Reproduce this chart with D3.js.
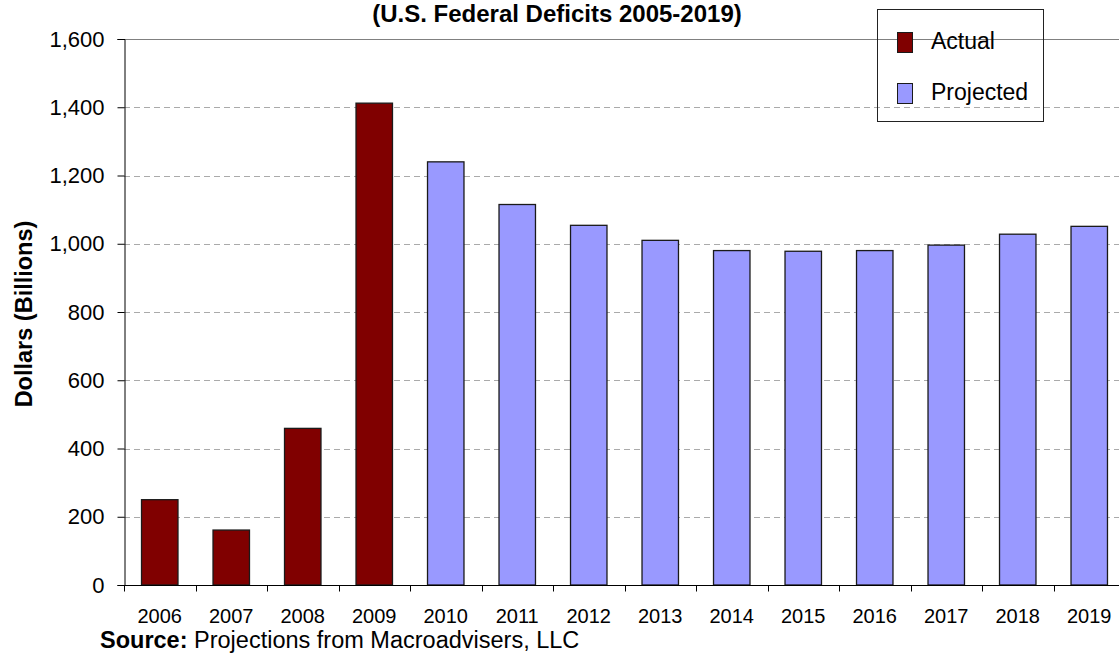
<!DOCTYPE html>
<html>
<head>
<meta charset="utf-8">
<script src="https://cdn.jsdelivr.net/npm/d3@7"></script>
<style>
	body { margin: 0; background: #fff; }
	svg { font-family: Arial, "Liberation Sans", sans-serif; }
</style>
</head>
<body>
<div id="chart"></div>
<script>
// data
const years = ['2006','2007','2008','2009','2010','2011','2012','2013','2014','2015','2016','2017','2018','2019'];
const deficits = [250, 161, 459, 1412, 1240, 1115, 1054, 1010, 980, 978, 980, 996, 1028, 1051];
const kinds = ['Actual','Actual','Actual','Actual','Projected','Projected','Projected','Projected','Projected','Projected','Projected','Projected','Projected','Projected'];
const yTicks = [0, 200, 400, 600, 800, 1000, 1200, 1400, 1600];
const legendLabels = ['Actual', 'Projected'];

const colours = { Actual: '#800000', Projected: '#9999FF' };
const width = 1119, height = 654;
const plot = { left: 124, right: 1125, top: 39, bottom: 585 };
const FONT = 'Arial, "Liberation Sans", sans-serif';

const svg = d3.select('#chart').append('svg')
	.attr('width', width)
	.attr('height', height);

const x = d3.scaleBand()
	.domain(years)
	.range([plot.left, plot.right])
	.paddingInner(0.49)
	.paddingOuter(0.245);

const y = d3.scaleLinear()
	.domain([0, 1600])
	.range([plot.bottom, plot.top]);

// gridlines (dashed), top one solid
svg.append('g')
	.selectAll('line')
	.data(yTicks.filter(d => d > 0))
	.enter().append('line')
		.attr('x1', plot.left)
		.attr('x2', width)
		.attr('y1', d => Math.round(y(d)) + 0.5)
		.attr('y2', d => Math.round(y(d)) + 0.5)
		.attr('stroke', d => d === 1600 ? '#808080' : '#aaaaaa')
		.attr('stroke-width', 1)
		.attr('stroke-dasharray', d => d === 1600 ? null : '6,4');

// bars
svg.append('g')
	.selectAll('rect')
	.data(years)
	.enter().append('rect')
		.attr('x', d => x(d))
		.attr('y', (d, i) => y(deficits[i]))
		.attr('width', x.bandwidth())
		.attr('height', (d, i) => y(0) - y(deficits[i]))
		.attr('fill', (d, i) => colours[kinds[i]])
		.attr('stroke', '#1a1a1a')
		.attr('stroke-width', 1.3);

// y axis
const yAxis = svg.append('g')
	.attr('transform', `translate(${plot.left + 0.5},0)`)
	.call(d3.axisLeft(y).tickValues(yTicks).tickSize(7).tickPadding(13).tickFormat(d3.format(',')));
yAxis.select('.domain').attr('stroke', '#000');
yAxis.selectAll('.tick line').attr('stroke', '#000');
yAxis.selectAll('.tick text')
	.attr('font-size', 22)
	.attr('font-family', FONT)
	.attr('fill', '#000');

// x axis: baseline, ticks at band edges, labels
const step = x.step();
const xBase = svg.append('g')
	.attr('transform', `translate(0,${plot.bottom + 0.5})`);
xBase.append('line')
	.attr('x1', plot.left)
	.attr('x2', width)
	.attr('stroke', '#000');
xBase.selectAll('.xtick')
	.data(years)
	.enter().append('line')
		.attr('class', 'xtick')
		.attr('x1', (d, i) => Math.round(plot.left + i * step) + 0.5)
		.attr('x2', (d, i) => Math.round(plot.left + i * step) + 0.5)
		.attr('y1', 0)
		.attr('y2', 6)
		.attr('stroke', '#000');
xBase.selectAll('.xlabel')
	.data(years)
	.enter().append('text')
		.attr('class', 'xlabel')
		.attr('x', d => x(d) + x.bandwidth() / 2)
		.attr('y', 37)
		.attr('text-anchor', 'middle')
		.attr('font-size', 20)
		.text(d => d);

// y axis title
svg.append('text')
	.attr('transform', 'translate(32,314) rotate(-90)')
	.attr('text-anchor', 'middle')
	.attr('font-size', 23.5)
	.attr('font-weight', 'bold')
	.text('Dollars (Billions)');

// title
svg.append('text')
	.attr('x', 557)
	.attr('y', 22)
	.attr('text-anchor', 'middle')
	.attr('font-size', 24)
	.attr('font-weight', 'bold')
	.text('(U.S. Federal Deficits 2005-2019)');

// source note
const source = svg.append('text')
	.attr('x', 100)
	.attr('y', 648)
	.attr('font-size', 23.5);
source.append('tspan').attr('font-weight', 'bold').text('Source:');
source.append('tspan').text(' Projections from Macroadvisers, LLC');

// legend
const legend = svg.append('g').attr('class', 'legend');
legend.append('rect')
	.attr('x', 877.5)
	.attr('y', 9.5)
	.attr('width', 166)
	.attr('height', 112)
	.attr('fill', 'none')
	.attr('stroke', '#222');
const items = legend.selectAll('.item')
	.data(legendLabels)
	.enter().append('g')
		.attr('class', 'item')
		.attr('transform', (d, i) => `translate(0,${i * 51})`);
items.append('rect')
	.attr('x', 897.5)
	.attr('y', 32.5)
	.attr('width', 15)
	.attr('height', 20)
	.attr('fill', d => colours[d])
	.attr('stroke', '#1a1a1a');
items.append('text')
	.attr('x', 931)
	.attr('y', 49)
	.attr('font-size', 23)
	.text(d => d);
</script>
</body>
</html>
